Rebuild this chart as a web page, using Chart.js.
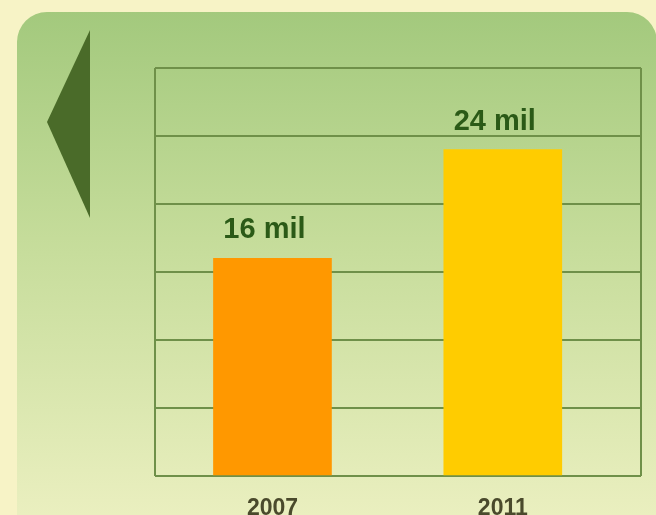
<html lang="es">
<head>
<meta charset="utf-8">
<title>Chart</title>
<style>
  * { margin: 0; padding: 0; }
  body { width: 656px; height: 515px; overflow: hidden; background: #f7f3c6; }
  #chart { display: block; }
</style>
</head>
<body>
<canvas id="chart" width="656" height="515"></canvas>
<script src="https://cdn.jsdelivr.net/npm/chart.js@4/dist/chart.umd.min.js"></script>
<script>
const years = ['2007', '2011'];
const values = [16, 24];
const valueLabels = ['16 mil', '24 mil'];
const barColors = ['#ff9800', '#ffcc00'];

// fondo: panel verde redondeado y flecha
const backdrop = {
  id: 'backdrop',
  beforeDraw(chart) {
    const ctx = chart.ctx;
    ctx.save();
    ctx.fillStyle = '#f7f3c6';
    ctx.fillRect(0, 0, chart.width, chart.height);
    const g = ctx.createLinearGradient(0, 12, 0, 515);
    g.addColorStop(0, '#a3c97d');
    g.addColorStop(0.45, '#c5dc9a');
    g.addColorStop(1, '#eaefbf');
    ctx.fillStyle = g;
    ctx.beginPath();
    ctx.roundRect(17, 12, 640, 560, 30);
    ctx.fill();
    ctx.fillStyle = '#4a6b29';
    ctx.beginPath();
    ctx.moveTo(90, 30);
    ctx.lineTo(47, 122);
    ctx.lineTo(90, 218);
    ctx.closePath();
    ctx.fill();
    ctx.restore();
  },
  beforeDatasetsDraw(chart) {
    const { ctx, chartArea: a } = chart;
    ctx.save();
    ctx.strokeStyle = '#6f9049';
    ctx.lineWidth = 2;
    ctx.beginPath();
    ctx.moveTo(a.left, a.top);
    ctx.lineTo(a.left, a.bottom);
    ctx.moveTo(a.right, a.top);
    ctx.lineTo(a.right, a.bottom);
    ctx.stroke();
    ctx.restore();
  },
  afterDatasetsDraw(chart) {
    const ctx = chart.ctx;
    const meta = chart.getDatasetMeta(0);
    ctx.save();
    ctx.fillStyle = '#2b5a17';
    ctx.font = 'bold 29px "Liberation Sans", Arial, sans-serif';
    ctx.textAlign = 'center';
    ctx.textBaseline = 'alphabetic';
    meta.data.forEach((bar, i) => {
      ctx.fillText(valueLabels[i], bar.x - 8, bar.y - 20);
    });
    ctx.restore();
  }
};

new Chart(document.getElementById('chart'), {
  type: 'bar',
  plugins: [backdrop],
  data: {
    datasets: [{
      data: values.map((v, i) => ({ x: i, y: v })),
      backgroundColor: barColors,
      borderWidth: 0,
      barThickness: 118
    }]
  },
  options: {
    responsive: false,
    animation: false,
    layout: { padding: { left: 155, right: 15, top: 68, bottom: 0 } },
    plugins: { legend: { display: false }, tooltip: { enabled: false } },
    scales: {
      x: {
        type: 'linear',
        min: -0.51,
        max: 1.6,
        offset: false,
        bounds: 'data',
        grid: { display: false, offset: false },
        border: { display: false },
        afterBuildTicks: (axis) => { axis.ticks = years.map((_, i) => ({ value: i })); },
        afterFit: (axis) => { axis.height = 39; },
        ticks: {
          padding: 11,
          color: '#4a4a2c',
          font: { family: '"Liberation Sans", Arial, sans-serif', size: 23, weight: 'bold' },
          callback: (v) => years[v]
        }
      },
      y: {
        min: 0,
        max: 30,
        ticks: { display: false, stepSize: 5 },
        grid: { color: '#6f9049', lineWidth: 2, drawTicks: false },
        border: { display: false }
      }
    }
  }
});
</script>
</body>
</html>
